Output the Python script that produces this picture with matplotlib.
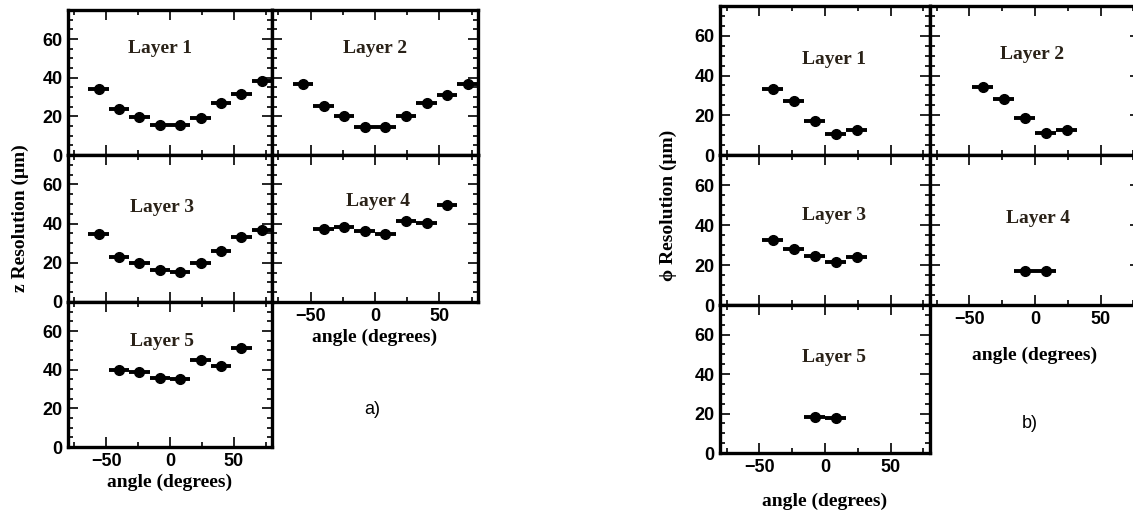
import numpy as np
import matplotlib.pyplot as plt
from matplotlib.ticker import MultipleLocator

# datos
ang_z = [-56, -40, -24, -8, 8, 24, 40, 56, 72]
z_capa1 = [34, 24, 19.5, 15.5, 15.5, 19, 27, 31.5, 38.5]
z_capa2 = [36.5, 25.5, 20, 14.5, 14.5, 20, 27, 31, 36.5]
z_capa3 = [34.5, 23, 20, 16.5, 15.5, 20, 26, 33, 36.5]
ang_z45 = [-40, -24, -8, 8, 24, 40, 56]
z_capa4 = [37.5, 38.5, 36, 34.5, 41.5, 40.5, 49.5]
z_capa5 = [40, 39, 35.5, 35, 45, 42, 51]

ang_phi = [-40, -24, -8, 8, 24]
phi_capa1 = [33, 27, 17, 10.5, 12.5]
phi_capa2 = [34, 28, 18.5, 11, 12.5]
phi_capa3 = [32.5, 28, 24.5, 21.5, 24]
ang_phi45 = [-8, 8]
phi_capa4 = [17, 17]
phi_capa5 = [18, 17.5]

medio_bin = 8
serif = ['Liberation Serif', 'DejaVu Serif']
sans = ['Liberation Sans', 'DejaVu Sans']

W, H = 1133, 511
fig = plt.figure(figsize=(W / 100, H / 100), dpi=100)


def panel(x0, x1, y0, y1, ang, vals, titulo, tx, ty, ylab=True, xlab=False):
    ax = fig.add_axes([x0 / W, 1 - y1 / H, (x1 - x0) / W, (y1 - y0) / H])
    ax.errorbar(ang, vals, xerr=medio_bin, fmt='o', color='black', ms=7,
                elinewidth=2.8, capsize=0)
    ax.set_xlim(-80, 80)
    ax.set_ylim(0, 75)
    ax.xaxis.set_major_locator(MultipleLocator(50))
    ax.xaxis.set_minor_locator(MultipleLocator(25))
    ax.yaxis.set_major_locator(MultipleLocator(20))
    ax.yaxis.set_minor_locator(MultipleLocator(5))
    ax.tick_params(which='both', direction='in', top=True, right=True, width=1.2,
                   labelsize=13, pad=4)
    ax.tick_params(which='major', length=7)
    ax.tick_params(which='minor', length=3.5)
    for s in ax.spines.values():
        s.set_linewidth(2.4)
    if not ylab:
        ax.set_yticklabels([])
    if not xlab:
        ax.set_xticklabels([])
    for lab in ax.get_xticklabels() + ax.get_yticklabels():
        lab.set_family(sans)
        lab.set_fontweight('bold')
    ax.text(tx, ty, titulo, ha='center', va='center', fontsize=14,
            fontweight='bold', family=serif, color='#2a2218')
    return ax


# figura a)
panel(68, 272, 10, 155, ang_z, z_capa1, 'Layer 1', -8, 55)
panel(272, 478, 10, 155, ang_z, z_capa2, 'Layer 2', 0, 55, ylab=False)
panel(68, 272, 155, 302, ang_z, z_capa3, 'Layer 3', -6, 48)
a4 = panel(272, 478, 155, 302, ang_z45, z_capa4, 'Layer 4', 2.5, 51.5, ylab=False, xlab=True)
a5 = panel(68, 272, 302, 447, ang_z45, z_capa5, 'Layer 5', -6.5, 54.5, xlab=True)
a4.set_xlabel('angle (degrees)', fontsize=14, fontweight='bold', family=serif, labelpad=3)
a5.set_xlabel('angle (degrees)', fontsize=14, fontweight='bold', family=serif, labelpad=3)
fig.text(20 / W, 1 - 218 / H, 'z Resolution (μm)', rotation=90, ha='center', va='center',
         fontsize=14, fontweight='bold', family=serif)
fig.text(372 / W, 1 - 410 / H, 'a)', ha='center', va='center', fontsize=13, family=sans)

# figura b)
panel(720, 930, 6, 155, ang_phi, phi_capa1, 'Layer 1', 7, 48)
panel(930, 1140, 6, 155, ang_phi, phi_capa2, 'Layer 2', -2, 50.5, ylab=False)
panel(720, 930, 155, 305, ang_phi, phi_capa3, 'Layer 3', 7, 45)
b4 = panel(930, 1140, 155, 305, ang_phi45, phi_capa4, 'Layer 4', 2.5, 43.5, ylab=False, xlab=True)
b5 = panel(720, 930, 305, 453, ang_phi45, phi_capa5, 'Layer 5', 7, 48.5, xlab=True)
b4.set_xlabel('angle (degrees)', fontsize=14, fontweight='bold', family=serif, labelpad=14)
b5.set_xlabel('angle (degrees)', fontsize=14, fontweight='bold', family=serif, labelpad=12)
fig.text(668 / W, 1 - 205 / H, 'ϕ Resolution (μm)', rotation=90, ha='center', va='center',
         fontsize=14, fontweight='bold', family=serif)
fig.text(1030 / W, 1 - 424 / H, 'b)', ha='center', va='center', fontsize=13, family=sans)

fig.savefig('out.png', dpi=100)
